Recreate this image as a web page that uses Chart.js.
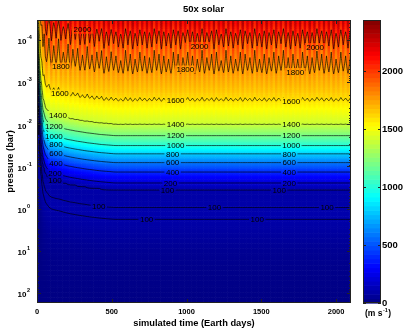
<!DOCTYPE html>
<html><head><meta charset="utf-8">
<script src="https://cdn.jsdelivr.net/npm/chart.js@4.4.1/dist/chart.umd.min.js"></script>
<style>html,body{margin:0;padding:0;background:#fff;}#wrap{position:relative;width:407px;height:331px;}</style>
</head><body><div id="wrap"><canvas id="c" width="407" height="331"></canvas></div>
<script>
const chartTitle = '50x solar';
const xTitle = 'simulated time (Earth days)';
const yTitle = 'pressure (bar)';
const xTicks = [0, 500, 1000, 1500, 2000];
const yTicks = [1e-4, 1e-3, 1e-2, 1e-1, 1, 10, 100];
const cbTicks = [0, 500, 1000, 1500, 2000];
const CMAX = 2440;

// time samples (Earth days)
const times = [0, 3, 6, 10, 15, 20, 26, 33, 40, 48, 56].concat(Array.from({length: 128}, (_, k) => 64 + 16 * k));
const oscillation = [0,0,0,0,0,0,0.2,-0.3,0.4,-0.5,0.6,
 0.9,-0.8,1.0,-0.6,0.7,-1.0,0.8,-0.4,0.6,-0.9,
 1.0,-0.7,0.5,-0.8,0.9,-0.5,0.8,-1.0,0.6,-0.6,
 0.9,-0.8,0.4,-0.9,1.0,-0.6,0.7,-0.9,0.5,-0.7,
 0.8,-0.4,0.9,-1.0,0.6,-0.8,1.0,-0.5,0.7,-0.9,
 0.6,-0.7,0.9,-0.6,0.8,-1.0,0.5,-0.8,1.0,-0.7,
 0.7,-0.5,0.9,-0.9,0.6,-0.8,1.0,-0.6,0.4,-0.9,
 0.8,-0.7,1.0,-0.5,0.7,-1.0,0.9,-0.6,0.5,-0.8,
 1.0,-0.9,0.6,-0.4,0.8,-1.0,0.7,-0.7,0.9,-0.5,
 0.6,-0.9,1.0,-0.8,0.5,-0.6,0.9,-1.0,0.7,-0.5,
 0.8,-0.8,1.0,-0.6,0.6,-0.9,0.9,-0.7,0.5,-1.0,
 0.8,-0.6,1.0,-0.8,0.7,-0.5,0.9,-0.9,0.6,-0.7,
 1.0,-0.6,0.8,-1.0,0.5,-0.8,0.9,-0.7,0.7,-0.9,
 1.0,-0.5,0.8,-0.9,0.6,-0.7,0.9,-0.8];
// equilibrated speed profile (m/s) vs pressure (bar)
const profilePressure = [3.2e-5, 6.3e-5, 8.5e-5, 1.8e-4, 4e-4, 8e-4, 1.5e-3, 2.6e-3, 5e-3, 1e-2, 1.86e-2, 3.2e-2, 5e-2, 8.1e-2, 0.135, 0.245, 0.355, 0.56, 0.95, 1.35, 1.8, 4, 10, 32, 200];
const profileSpeed    = [2240, 2090, 2000, 1890, 1800, 1730, 1670, 1600, 1500, 1400, 1200, 1000, 800, 600, 400, 200, 100, 93, 100, 108, 100, 75, 45, 25, 10];
// amplitude of the fluctuation (m/s) vs pressure (bar)
const ampPressure = [3.2e-5, 8.5e-5, 4e-4, 1e-3, 2.6e-3, 6.3e-3, 1.6e-2];
const ampSpeed    = [130, 120, 65, 30, 15, 5, 0];
// spin-up: upward displacement of the profile (decades of pressure) vs time
const spinupTimes = [0, 5, 10, 15, 20, 30, 40, 55, 75, 100, 150, 200, 260, 330, 420, 520];
const spinupShift = [3.3, 2.6, 2.0, 1.6, 1.3, 0.9, 0.62, 0.42, 0.3, 0.24, 0.2, 0.15, 0.11, 0.07, 0.03, 0];
const contourLevels = [100, 200, 400, 600, 800, 1000, 1200, 1400, 1600, 1800, 2000];
// [level, time of label, n-th crossing from top]
const contourLabels = [
 [2000,304,1],[2000,1087,1],[2000,1860,1],
 [1800,160,1],[1800,992,1],[1800,1727,1],
 [1600,153,1],[1600,927,1],[1600,1700,1],
 [1400,140,1],[1400,927,1],[1400,1700,1],
 [1200,113,1],[1200,927,1],[1200,1700,1],
 [1000,113,1],[1000,927,1],[1000,1700,1],
 [800,127,1],[800,907,1],[800,1687,1],
 [600,127,1],[600,907,1],[600,1687,1],
 [400,127,1],[400,907,1],[400,1687,1],
 [200,120,1],[200,893,1],[200,1687,1],
 [100,120,1],[100,873,1],[100,1620,1],
 [100,413,2],[100,1187,2],[100,1940,2],
 [100,733,3],[100,1473,3]
];

const FONT = '"Liberation Sans", Arial, Helvetica, sans-serif';
Chart.defaults.font.family = FONT;
Chart.defaults.color = '#000';

function lerpArr(xs, ys, x) {
  const n = xs.length;
  if (x <= xs[0]) return ys[0];
  if (x >= xs[n - 1]) return ys[n - 1];
  let k = 0;
  while (x > xs[k + 1]) k++;
  const f = (x - xs[k]) / (xs[k + 1] - xs[k]);
  return ys[k] + f * (ys[k + 1] - ys[k]);
}
const profLog = profilePressure.map(p => Math.log10(p));
const ampLog = ampPressure.map(p => Math.log10(p));
const gridLogP = [];
for (let k = 0; k <= 172; k++) gridLogP.push(-4.52 + 0.04 * k);
function speedAt(i, lp) {
  const sh = lerpArr(spinupTimes, spinupShift, times[i]);
  return lerpArr(profLog, profileSpeed, lp + sh) + oscillation[i] * lerpArr(ampLog, ampSpeed, lp);
}
const V = times.map((t, i) => gridLogP.map(lp => speedAt(i, lp)));

function jetRGB(v, steps) {
  let x = Math.max(0, Math.min(1, v / CMAX));
  if (steps) { const k = Math.min(steps - 1, Math.floor(x * steps)); x = (k + 0.5) / steps; }
  const f = a => Math.round(255 * Math.max(0, Math.min(1, a)));
  return `rgb(${f(1.5 - Math.abs(4 * x - 3))},${f(1.5 - Math.abs(4 * x - 2))},${f(1.5 - Math.abs(4 * x - 1))})`;
}

const fieldPlugin = {
  id: 'field',
  beforeDatasetsDraw(chart) {
    const {ctx, chartArea: a, scales: {x, y}} = chart;
    const xs = times.map(t => x.getPixelForValue(t));
    const ys = gridLogP.map(lp => y.getPixelForValue(Math.pow(10, lp)));
    ctx.save();
    ctx.beginPath(); ctx.rect(a.left, a.top, a.right - a.left, a.bottom - a.top); ctx.clip();
    const n = times.length, m = gridLogP.length;
    for (let i = 0; i < n; i++) {
      const x0 = i === 0 ? xs[0] : (xs[i - 1] + xs[i]) / 2;
      const x1 = i === n - 1 ? a.right : (xs[i] + xs[i + 1]) / 2;
      for (let j = 0; j < m; j++) {
        const y0 = j === 0 ? ys[0] - (ys[1] - ys[0]) / 2 : (ys[j - 1] + ys[j]) / 2;
        const y1 = j === m - 1 ? ys[j] + (ys[j] - ys[j - 1]) / 2 : (ys[j] + ys[j + 1]) / 2;
        ctx.fillStyle = jetRGB(V[i][j]);
        ctx.fillRect(x0, Math.min(y0, y1), x1 - x0 + 0.6, Math.abs(y1 - y0) + 0.6);
      }
    }
    ctx.restore();
  },
  afterDatasetsDraw(chart) {
    const {ctx, chartArea: a, scales: {x, y, cb}} = chart;
    const xs = times.map(t => x.getPixelForValue(t));
    const ys = gridLogP.map(lp => y.getPixelForValue(Math.pow(10, lp)));
    const n = times.length, m = gridLogP.length;
    ctx.font = '8px ' + FONT;
    const boxes = [];
    contourLabels.forEach(([L, t, nth]) => {
      let i = 0, best = 1e9;
      times.forEach((tt, k) => { if (Math.abs(tt - t) < best) { best = Math.abs(tt - t); i = k; } });
      let count = 0;
      for (let j = 0; j < m - 1; j++) {
        const va = V[i][j], vb = V[i][j + 1];
        if ((va < L) !== (vb < L)) {
          count++;
          if (count === nth) {
            const f = (L - va) / (vb - va);
            const py = ys[j] + f * (ys[j + 1] - ys[j]);
            const px = x.getPixelForValue(t);
            const w = ctx.measureText(String(L)).width;
            boxes.push({L, px, py, x: px - w / 2 - 1.5, y: py - 4, w: w + 3, h: 8});
            break;
          }
        }
      }
    });
    ctx.save();
    ctx.beginPath();
    ctx.rect(a.left, a.top, a.right - a.left, a.bottom - a.top);
    boxes.forEach(b => ctx.rect(b.x, b.y, b.w, b.h));
    ctx.clip('evenodd');
    ctx.strokeStyle = 'rgba(0,0,0,0.85)';
    ctx.lineWidth = 0.75;
    ctx.beginPath();
    contourLevels.forEach(L => {
      for (let i = 0; i < n - 1; i++) {
        for (let j = 0; j < m - 1; j++) {
          const c = [[V[i][j], xs[i], ys[j]], [V[i + 1][j], xs[i + 1], ys[j]], [V[i + 1][j + 1], xs[i + 1], ys[j + 1]], [V[i][j + 1], xs[i], ys[j + 1]]];
          const pts = [];
          for (let e = 0; e < 4; e++) {
            const p = c[e], q = c[(e + 1) % 4];
            if ((p[0] < L) !== (q[0] < L)) {
              const f = (L - p[0]) / (q[0] - p[0]);
              pts.push([p[1] + f * (q[1] - p[1]), p[2] + f * (q[2] - p[2])]);
            }
          }
          for (let k = 0; k + 1 < pts.length; k += 2) {
            ctx.moveTo(pts[k][0], pts[k][1]);
            ctx.lineTo(pts[k + 1][0], pts[k + 1][1]);
          }
        }
      }
    });
    ctx.stroke();
    ctx.restore();
    ctx.save();
    ctx.font = '8px ' + FONT;
    ctx.fillStyle = '#000';
    ctx.textAlign = 'center';
    ctx.textBaseline = 'middle';
    boxes.forEach(b => ctx.fillText(String(b.L), b.px, b.py + 0.5));
    ctx.restore();
    ctx.save();
    ctx.strokeStyle = '#222';
    ctx.lineWidth = 1;
    ctx.beginPath();
    xTicks.forEach(v => {
      const px = Math.round(x.getPixelForValue(v)) + 0.5;
      ctx.moveTo(px, a.bottom); ctx.lineTo(px, a.bottom - 4);
      ctx.moveTo(px, a.top); ctx.lineTo(px, a.top + 4);
    });
    yTicks.forEach(v => {
      const py = Math.round(y.getPixelForValue(v)) + 0.5;
      ctx.moveTo(a.left, py); ctx.lineTo(a.left + 4, py);
      ctx.moveTo(a.right, py); ctx.lineTo(a.right - 4, py);
    });
    for (let e = -5; e <= 2; e++) {
      for (let k = 2; k <= 9; k++) {
        const v = k * Math.pow(10, e);
        if (v < y.min || v > y.max) continue;
        const py = Math.round(y.getPixelForValue(v)) + 0.5;
        ctx.moveTo(a.left, py); ctx.lineTo(a.left + 2, py);
        ctx.moveTo(a.right, py); ctx.lineTo(a.right - 2, py);
      }
    }
    ctx.stroke();
    ctx.strokeRect(Math.round(a.left) + 0.5, Math.round(a.top) + 0.5, Math.round(a.right - a.left) - 1, Math.round(a.bottom - a.top) - 1);
    ctx.restore();
    ctx.save();
    ctx.fillStyle = '#000';
    ctx.textBaseline = 'middle';
    ctx.textAlign = 'left';
    yTicks.forEach(v => {
      const py = y.getPixelForValue(v);
      const ex = Math.round(Math.log10(v));
      ctx.font = 'bold 8px ' + FONT;
      ctx.fillText('10', 17.5, py + 2);
      const w = ctx.measureText('10').width;
      ctx.font = 'bold 5.5px ' + FONT;
      ctx.fillText(String(ex), 17.5 + w + 0.5, py - 2.5);
    });
    ctx.restore();
    const cx0 = a.right + 12, cw = 18;
    ctx.save();
    for (let k = 0; k < 64; k++) {
      const v0 = k * CMAX / 64, v1 = (k + 1) * CMAX / 64;
      const y0 = cb.getPixelForValue(v0), y1 = cb.getPixelForValue(v1);
      ctx.fillStyle = jetRGB((v0 + v1) / 2, 64);
      ctx.fillRect(cx0, y1, cw, y0 - y1 + 0.6);
    }
    ctx.strokeStyle = '#222';
    ctx.lineWidth = 1;
    ctx.beginPath();
    cbTicks.forEach(v => {
      const py = Math.round(cb.getPixelForValue(v)) + 0.5;
      ctx.moveTo(cx0, py); ctx.lineTo(cx0 + 3, py);
      ctx.moveTo(cx0 + cw, py); ctx.lineTo(cx0 + cw - 3, py);
    });
    ctx.stroke();
    ctx.strokeRect(Math.round(cx0) + 0.5, Math.round(cb.top) + 0.5, cw - 1, Math.round(cb.bottom - cb.top) - 1);
    ctx.fillStyle = '#000';
    ctx.textBaseline = 'alphabetic';
    ctx.textAlign = 'left';
    ctx.font = 'bold 8.5px ' + FONT;
    let ux = cx0 + 2;
    ctx.fillText('(m s', ux, 316); ux += ctx.measureText('(m s').width;
    ctx.font = 'bold 5.5px ' + FONT;
    ctx.fillText('-1', ux + 0.5, 312); ux += ctx.measureText('-1').width + 1;
    ctx.font = 'bold 8.5px ' + FONT;
    ctx.fillText(')', ux, 316);
    ctx.restore();
  }
};

function noPad(s) { s.paddingTop = 0; s.paddingBottom = 0; s.paddingLeft = 0; s.paddingRight = 0; }

new Chart(document.getElementById('c'), {
  type: 'scatter',
  data: {datasets: []},
  options: {
    responsive: false, animation: false, devicePixelRatio: 1,
    layout: {padding: 0},
    plugins: {
      legend: {display: false}, tooltip: {enabled: false},
      title: {display: true, text: chartTitle, color: '#000', font: {size: 9.5, weight: 'bold'}, padding: {top: 4, bottom: 4.6}}
    },
    scales: {
      x: {
        type: 'linear', min: 0, max: 2100,
        grid: {display: false, drawTicks: false}, border: {display: false},
        ticks: {font: {size: 7.5, weight: 'bold'}, color: '#000', padding: 4, maxRotation: 0, autoSkip: false, callback: v => String(v)},
        afterBuildTicks: s => { s.ticks = xTicks.map(v => ({value: v})); },
        afterFit: s => { s.height = 28; noPad(s); },
        title: {display: true, text: xTitle, color: '#000', font: {size: 9.3, weight: 'bold'}, padding: {top: 0, bottom: 1.5}}
      },
      y: {
        type: 'logarithmic', reverse: true, min: 3.35e-5, max: 173,
        grid: {display: false, drawTicks: false}, border: {display: false},
        ticks: {display: false},
        afterBuildTicks: s => { s.ticks = yTicks.map(v => ({value: v})); },
        afterFit: s => { s.width = 37; noPad(s); },
        title: {display: true, text: yTitle, color: '#000', font: {size: 9.3, weight: 'bold'}, padding: {top: 5, bottom: 0}}
      },
      cb: {
        type: 'linear', position: 'right', min: 0, max: CMAX,
        grid: {display: false, drawTicks: false}, border: {display: false},
        ticks: {font: {size: 9.5, weight: 'bold'}, color: '#000', padding: 31, autoSkip: false, callback: v => String(v)},
        afterBuildTicks: s => { s.ticks = cbTicks.map(v => ({value: v})); },
        afterFit: s => { s.width = 56; noPad(s); }
      }
    }
  },
  plugins: [fieldPlugin]
});
</script>
</body></html>
